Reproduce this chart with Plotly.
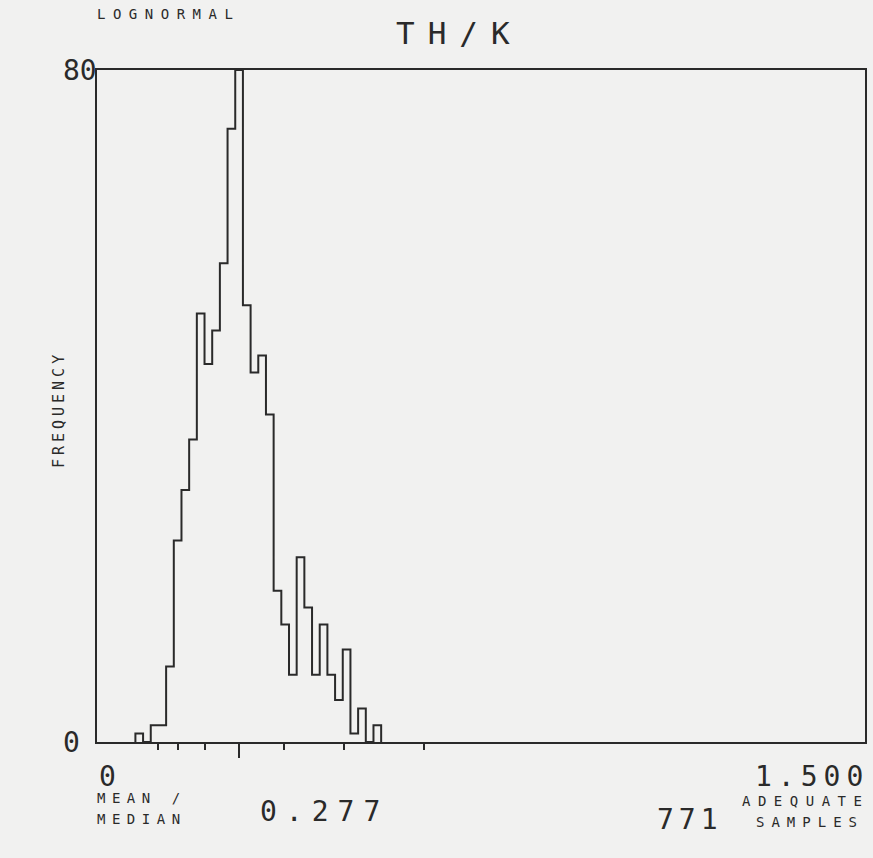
import plotly.graph_objects as go

# ---- data ----
bin_left_edges = [0.075, 0.090, 0.105, 0.120, 0.135, 0.150, 0.165, 0.180,
                  0.195, 0.210, 0.225, 0.240, 0.255, 0.270, 0.285, 0.300,
                  0.315, 0.330, 0.345, 0.360, 0.375, 0.390, 0.405, 0.420,
                  0.435, 0.450, 0.465, 0.480, 0.495, 0.510, 0.525, 0.540]
bin_width = 0.015
counts = [1, 0, 2, 2, 9, 24, 30, 36, 51, 45, 49, 57, 73, 80, 52, 44,
          46, 39, 18, 14, 8, 22, 16, 8, 14, 8, 5, 11, 1, 4, 0, 2]
median_value = 0.277
sd_ticks = [0.120, 0.159, 0.210, 0.366, 0.483, 0.638]
x_range = [0, 1.5]
y_range = [0, 80]
x_tick_text = ["0", "1.500"]
y_tick_text = ["0", "80"]
n_samples = 771
title = "TH/K"
dist_label = "LOGNORMAL"

# ---- style ----
INK = "#2a2a2a"
BG = "#f1f1f0"
FONT = "DejaVu Sans Mono"
W, H = 873, 858
L, R, T, B = 97, 867, 70, 742


def px(xp):
    return (xp - L) / (R - L)


def py(yp):
    return (B - yp) / (B - T)


def spaced(text, sp):
    return f'<span style="letter-spacing:{sp}px">{text}</span>'


# step outline of histogram
xs = [bin_left_edges[0]] + bin_left_edges + [bin_left_edges[-1] + bin_width]
ys = [0] + counts + [0]

fig = go.Figure()
fig.add_trace(go.Scatter(x=xs, y=ys, mode="lines", line=dict(shape="hv", color=INK, width=2),
                         hoverinfo="skip", showlegend=False))

fig.update_layout(
    width=W, height=H,
    margin=dict(l=L, r=W - R, t=T, b=H - B),
    paper_bgcolor=BG, plot_bgcolor=BG,
    showlegend=False,
    xaxis=dict(range=x_range, showline=True, mirror=True, linecolor=INK, linewidth=2,
               showgrid=False, zeroline=False, showticklabels=False,
               tickmode="array", tickvals=[median_value], ticks="outside",
               ticklen=14, tickwidth=2, tickcolor=INK,
               minor=dict(tickmode="array", tickvals=sd_ticks, ticks="outside",
                          ticklen=6, tickwidth=2, tickcolor=INK)),
    yaxis=dict(range=y_range, showline=True, mirror=True, linecolor=INK, linewidth=2,
               showgrid=False, zeroline=False, showticklabels=False, ticks=""),
)

ann = []
big = 28
small = 14
# y labels
ann.append(dict(text=y_tick_text[1], xref="paper", yref="y", x=px(61), y=y_range[1],
                xanchor="left", yanchor="middle", font=dict(size=big)))
ann.append(dict(text=y_tick_text[0], xref="paper", yref="y", x=px(61), y=y_range[0],
                xanchor="left", yanchor="middle", font=dict(size=big)))
# x labels
ann.append(dict(text=x_tick_text[0], xref="x", yref="paper", x=x_range[0], y=py(776),
                xanchor="left", yanchor="middle", font=dict(size=big)))
ann.append(dict(text=spaced(x_tick_text[1], 6), xref="x", yref="paper", x=x_range[1], y=py(776),
                xanchor="right", yanchor="middle", font=dict(size=big), xshift=6))
# titles
ann.append(dict(text=spaced(title, 13), xref="paper", yref="paper", x=px(395), y=py(33),
                xanchor="left", yanchor="middle", font=dict(size=31)))
ann.append(dict(text=spaced(dist_label, 7.5), xref="paper", yref="paper", x=px(95), y=py(14),
                xanchor="left", yanchor="middle", font=dict(size=small)))
ann.append(dict(text=spaced("FREQUENCY", 4), xref="paper", yref="paper", x=px(59), y=py(410),
                xanchor="center", yanchor="middle", textangle=-90, font=dict(size=15)))
# bottom stats
ann.append(dict(text=spaced("MEAN /", 6.5), xref="paper", yref="paper", x=px(95), y=py(798),
                xanchor="left", yanchor="middle", font=dict(size=small)))
ann.append(dict(text=spaced("MEDIAN", 6.5), xref="paper", yref="paper", x=px(95), y=py(819),
                xanchor="left", yanchor="middle", font=dict(size=small)))
ann.append(dict(text=spaced(f"{median_value:.3f}", 9), xref="paper", yref="paper", x=px(258), y=py(811),
                xanchor="left", yanchor="middle", font=dict(size=big)))
ann.append(dict(text=spaced(str(n_samples), 5), xref="paper", yref="paper", x=px(722), y=py(819),
                xanchor="right", yanchor="middle", font=dict(size=big), xshift=5))
ann.append(dict(text=spaced("ADEQUATE", 7.5), xref="paper", yref="paper", x=px(866), y=py(801),
                xanchor="right", yanchor="middle", font=dict(size=small), xshift=7))
ann.append(dict(text=spaced("SAMPLES", 7), xref="paper", yref="paper", x=px(861), y=py(822),
                xanchor="right", yanchor="middle", font=dict(size=small), xshift=7))

for a in ann:
    a["showarrow"] = False
    a["font"]["family"] = FONT
    a["font"]["color"] = INK
fig.update_layout(annotations=ann)

fig.write_html(
    "out.html",
    config={"displayModeBar": False},
    post_script=("document.body.style.margin='0';"
                 "document.body.style.background='" + BG + "';"
                 "document.documentElement.style.overflow='hidden';"),
)
